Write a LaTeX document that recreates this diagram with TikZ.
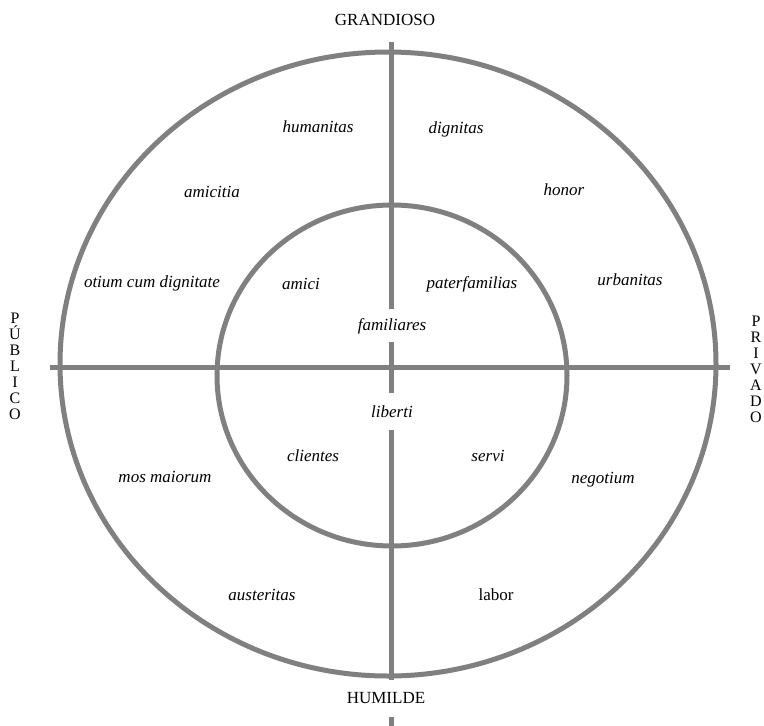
\documentclass[tikz,border=0pt]{standalone}
\usepackage{fontspec}
\setmainfont{Liberation Serif}
\definecolor{linegray}{RGB}{128,128,128}
\tikzset{
  ring/.style={draw=linegray, line width=5pt},
  axis/.style={draw=linegray, line width=5pt},
  word/.style={font=\fontsize{17}{19}\selectfont\itshape, inner sep=0pt},
  plainword/.style={font=\fontsize{17}{19}\selectfont, inner sep=0pt},
  pole/.style={font=\fontsize{17}{19}\selectfont, inner sep=0pt},
  vpole/.style={font=\fontsize{16}{16}\selectfont, inner sep=0pt, align=center}
}
\begin{document}
\begin{tikzpicture}[x=1pt,y=-1pt]
\useasboundingbox (0,0) rectangle (764,726);
% circles
\draw[ring] (388,364) ellipse [x radius=328, y radius=312];
\draw[ring] (392,375.5) ellipse [x radius=175, y radius=170.5];
% axes
\coordinate (hl) at (50,367);
\coordinate (hr) at (730,367);
\draw[axis] (hl) -- (hr);
\coordinate (v1a) at (391,42);
\coordinate (v1b) at (391,309);
\coordinate (v2a) at (391,342);
\coordinate (v2b) at (391,393);
\coordinate (v3a) at (391,430);
\coordinate (v3b) at (391,680);
\coordinate (v4a) at (391,717);
\coordinate (v4b) at (391,726);
\draw[axis] (v1a) -- (v1b);
\draw[axis] (v2a) -- (v2b);
\draw[axis] (v3a) -- (v3b);
\draw[axis] (v4a) -- (v4b);
% poles
\node[pole] (grandioso) at (385,20) {GRANDIOSO};
\node[pole] (humilde) at (386,698) {HUMILDE};
\node[vpole] (publico) at (15,366) {P\\Ú\\B\\L\\I\\C\\O};
\node[vpole] (privado) at (756,369) {P\\R\\I\\V\\A\\D\\O};
% words
\node[word] (humanitas) at (318,127) {humanitas};
\node[word] (dignitas) at (456,129) {dignitas};
\node[word] (amicitia) at (212,192) {amicitia};
\node[word] (honor) at (564,190) {honor};
\node[word] (otium) at (152,283) {otium cum dignitate};
\node[word] (amici) at (301,284) {amici};
\node[word] (paterfamilias) at (472,284) {paterfamilias};
\node[word] (urbanitas) at (630,280) {urbanitas};
\node[word] (familiares) at (392,326) {familiares};
\node[word] (liberti) at (392,412) {liberti};
\node[word] (clientes) at (313,456) {clientes};
\node[word] (servi) at (488,456) {servi};
\node[word] (mos) at (165,477) {mos maiorum};
\node[word] (negotium) at (603,480) {negotium};
\node[word] (austeritas) at (262,595) {austeritas};
\node[plainword] (labor) at (496,595) {labor};
\end{tikzpicture}
\end{document}
